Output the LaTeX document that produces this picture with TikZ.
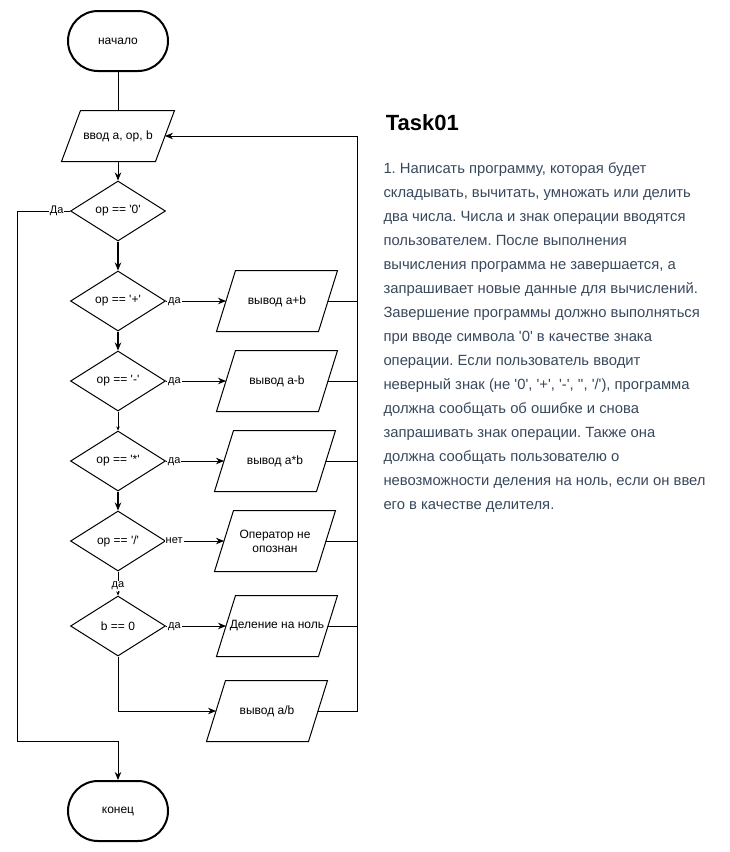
\documentclass[tikz,border=0pt]{standalone}
\usepackage{fontspec}
\setmainfont{Liberation Sans}[Ligatures=TeXOff]
\usepackage{xcolor}
\usetikzlibrary{shapes.geometric,arrows.meta}

\definecolor{tasktext}{RGB}{56,72,92}

\tikzset{
    terminal/.style={draw, line width=2pt, rounded corners=30pt, minimum width=100pt,
        minimum height=60pt, font=\fontsize{12}{14}\selectfont},
    cond/.style={draw, diamond, aspect=1.6, minimum width=95pt, minimum height=60pt,
        inner sep=0pt, font=\fontsize{12}{14}\selectfont},
    iobox/.style={minimum width=101pt, minimum height=60pt, inner sep=2pt, align=center,
        font=\fontsize{12}{14}\selectfont,
        append after command={\pgfextra{
            \draw ([xshift=-9.5pt]\tikzlastnode.south west) -- ([xshift=-9.5pt]\tikzlastnode.south east)
                -- ([xshift=9.5pt]\tikzlastnode.north east) -- ([xshift=9.5pt]\tikzlastnode.north west) -- cycle;}}},
    lbl/.style={fill=white, inner sep=1pt, anchor=mid, font=\fontsize{11}{13}\selectfont},
    heavy/.style={line width=2pt},
    tinytip/.style={-{Stealth[length=4pt,width=3.5pt]}}
}

\begin{document}
\frenchspacing
\begin{tikzpicture}[x=1pt, y=-1pt, line width=1pt, >={Stealth[length=8pt,width=6.5pt]}]
    \useasboundingbox (0,0) rectangle (729,852);

    % Start and input
    \node[terminal] (start) at (118,41) {начало};
    \node[iobox, minimum width=93pt, minimum height=50pt] (inp) at (118,136) {ввод a, op, b};
    \draw (start) -- (inp);

    % Exit test
    \node[cond] (d0) at (118,211) {op == '0'};
    \draw[->] (inp) -- (d0);

    % Return line on the right
    \coordinate (bus) at (357,136);

    \foreach \nm/\y/\cx/\sym in {plus/301/277/+, minus/381/277/-, mul/461/275/*} {
        % Test of the sign and its output
        \node[cond] (d\nm) at (118,\y) {op == '\sym'};
        \node[iobox] (out\nm) at (\cx,\y) {вывод a\sym b};
        \draw[->] (d\nm.east) -- node[lbl, pos=0.14] {да} (out\nm.west);
        \draw (out\nm.east) -- (out\nm.east -| bus);
    }
    \draw[->, heavy] (d0) -- (dplus);
    \draw[->, heavy] (dplus) -- (dminus);
    \draw[tinytip] (dminus) -- (dmul);

    % Division and unknown sign
    \node[cond] (ddiv) at (118,541) {op == '/'};
    \node[iobox] (outerr) at (275,541) {Оператор не\\опознан};
    \draw[->, heavy] (dmul) -- (ddiv);
    \draw[->] (ddiv.east) -- node[lbl, pos=0.14] {нет} (outerr.west);
    \draw (outerr.east) -- (outerr.east -| bus);

    \node[cond] (dzero) at (118,626) {b == 0};
    \node[iobox] (outzero) at (277,626) {Деление на ноль};
    \node[iobox] (outdiv) at (267,711) {вывод a/b};
    \draw[tinytip] (ddiv) -- node[lbl, pos=0.56] {да} (dzero);
    \draw[->] (dzero.east) -- node[lbl, pos=0.14] {да} (outzero.west);
    \draw (outzero.east) -- (outzero.east -| bus);
    \draw[->] (dzero.south) |- (outdiv.west);
    \draw[->] (outdiv.east) -| (bus) -- (inp.east);

    % End
    \node[terminal] (end) at (118,811) {конец};
    \coordinate (lft) at (17,741);
    \draw[->] (d0.west) -| node[lbl, pos=0.126] {Да} (lft) -| (end.north);

    % Task text
    \node[anchor=base west, font=\fontsize{22}{26}\selectfont\bfseries] (title) at (382,130) {Task01};
    \node[anchor=north west, align=left, inner sep=0pt, text=tasktext,
        font=\fontsize{14.8}{24}\selectfont] (task) at (383,162) {1. Написать программу, которая будет\\
        складывать, вычитать, умножать или делить\\
        два числа. Числа и знак операции вводятся\\
        пользователем. После выполнения\\
        вычисления программа не завершается, а\\
        запрашивает новые данные для вычислений.\\
        Завершение программы должно выполняться\\
        при вводе символа '0' в качестве знака\\
        операции. Если пользователь вводит\\
        неверный знак (не '0', '+', '-', '', '/'), программа\\
        должна сообщать об ошибке и снова\\
        запрашивать знак операции. Также она\\
        должна сообщать пользователю о\\
        невозможности деления на ноль, если он ввел\\
        его в качестве делителя.};

\end{tikzpicture}
\end{document}
